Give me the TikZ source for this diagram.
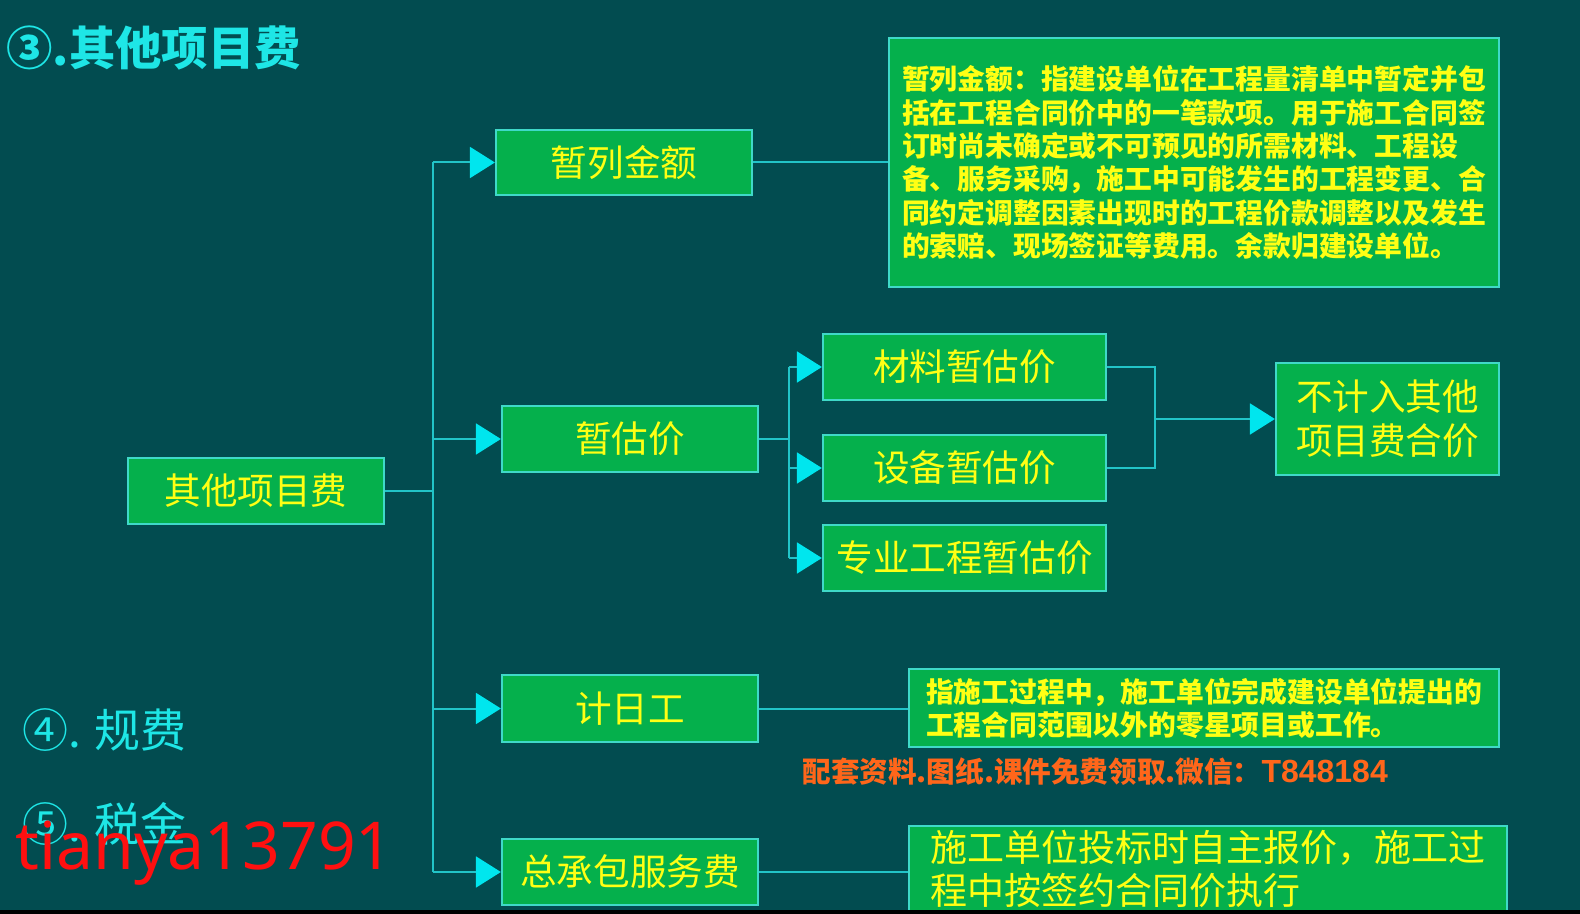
\documentclass[tikz,border=0pt]{standalone}
\usepackage{fontspec}
\setmainfont{Noto Sans CJK SC}
\newfontfamily\latinsans{Noto Sans}
\newfontfamily\codesans{Liberation Sans}
\usetikzlibrary{arrows.meta}

\definecolor{bgteal}{HTML}{024C50}
\definecolor{boxgreen}{HTML}{05B04C}
\definecolor{boxedge}{HTML}{3FD9C8}
\definecolor{labelyellow}{HTML}{FFFF14}
\definecolor{linkcyan}{HTML}{22C4C8}
\definecolor{tipcyan}{HTML}{00E6EE}
\definecolor{headcyan}{HTML}{1EE6E6}
\definecolor{noteorange}{HTML}{FF661A}
\definecolor{markred}{HTML}{FF1010}

\begin{document}
\begin{tikzpicture}[x=0.5pt,y=-0.5pt,
  box/.style={draw=boxedge, line width=1.1pt, fill=boxgreen, text=labelyellow,
    inner sep=0pt, align=center, font=\fontsize{18.3pt}{22pt}\selectfont},
  notebox/.style={box, align=left},
  plain/.style={inner sep=0pt},
  link/.style={draw=linkcyan, line width=1pt},
  feed/.style={link, -{Triangle[length=12.5pt,width=15.5pt,color=tipcyan]}},
]
% canvas
\fill[bgteal] (0,0) rectangle (1580,914);
\useasboundingbox (0,0) rectangle (1580,914);

% heading and side items
\node[plain, anchor=west, text=headcyan, font=\bfseries\fontsize{23.2pt}{28pt}\selectfont]
  (title) at (6,48) {③.其他项目费};
\node[plain, anchor=west, text=headcyan, font=\fontsize{23pt}{28pt}\selectfont]
  (fee) at (22,730) {④. 规费};
\node[plain, anchor=west, text=headcyan, font=\fontsize{23pt}{28pt}\selectfont]
  (tax) at (22,824) {⑤. 税金};

% tree nodes
\node[box, minimum width=128pt, minimum height=33pt] (root) at (256,491) {其他项目费};
\node[box, minimum width=128pt, minimum height=32.5pt] (zl) at (624,162.5) {暂列金额};
\node[box, minimum width=128pt, minimum height=33pt] (zg) at (630,439) {暂估价};
\node[box, minimum width=128pt, minimum height=33.5pt] (jr) at (630,708.5) {计日工};
\node[box, minimum width=128pt, minimum height=33pt] (zcb) at (630,872) {总承包服务费};
\node[box, minimum width=141.5pt, minimum height=33pt] (cl) at (964.5,367) {材料暂估价};
\node[box, minimum width=141.5pt, minimum height=33pt] (sb) at (964.5,468) {设备暂估价};
\node[box, minimum width=141.5pt, minimum height=33pt] (zy) at (964.5,558) {专业工程暂估价};
\node[box, minimum width=111.5pt, minimum height=56pt] (bj) at (1387.5,419) {不计入其他\\项目费合价};

% explanation boxes
\node[notebox, minimum width=305pt, minimum height=124.5pt,
  font=\bfseries\fontsize{13.9pt}{16.7pt}\selectfont] (d1) at (1194,162.5)
  {暂列金额：指建设单位在工程量清单中暂定并包\\
   括在工程合同价中的一笔款项。用于施工合同签\\
   订时尚未确定或不可预见的所需材料、工程设\\
   备、服务采购，施工中可能发生的工程变更、合\\
   同约定调整因素出现时的工程价款调整以及发生\\
   的索赔、现场签证等费用。余款归建设单位。};
\node[notebox, minimum width=295pt, minimum height=39pt,
  font=\bfseries\fontsize{13.9pt}{16.5pt}\selectfont] (d2) at (1204,708)
  {指施工过程中，施工单位完成建设单位提出的\\
   工程合同范围以外的零星项目或工作。};
\node[notebox, minimum width=299pt, minimum height=43pt,
  font=\fontsize{18.5pt}{21.3pt}\selectfont] (d3) at (1208,869)
  {施工单位投标时自主报价，施工过\\
   程中按签约合同价执行};

\node[plain, anchor=west, text=noteorange, font=\bfseries\fontsize{14.3pt}{17pt}\selectfont]
  (promo) at (802,772)
  {配套资料.图纸.课件免费领取.微信：{\codesans\bfseries\fontsize{16pt}{17pt}\selectfont T848184}};

% connectors
\coordinate (t) at (433,491);
\coordinate (s) at (789,439);
\coordinate (m) at (1155,419);

\draw[link] (root.east) -- (t);
\draw[link] (t |- zl.west) -- (t |- zcb.west);
\draw[feed] (t |- zl.west) -- (zl.west);
\draw[feed] (t |- zg.west) -- (zg.west);
\draw[feed] (t |- jr.west) -- (jr.west);
\draw[feed] (t |- zcb.west) -- (zcb.west);

\draw[link] (zl.east) -- (zl.east -| d1.west);
\draw[link] (jr.east) -- (jr.east -| d2.west);
\draw[link] (zcb.east) -- (zcb.east -| d3.west);

\draw[link] (zg.east) -- (s);
\draw[link] (s |- cl.west) -- (s |- zy.west);
\draw[feed] (s |- cl.west) -- (cl.west);
\draw[feed] (s |- sb.west) -- (sb.west);
\draw[feed] (s |- zy.west) -- (zy.west);

\draw[link] (cl.east) -- (m |- cl.east) -- (m |- sb.east) -- (sb.east);
\draw[feed] (m) -- (bj.west);

% overlay mark and bottom strip
\node[plain, anchor=base west, text=markred, font=\latinsans\fontsize{33pt}{36pt}\selectfont]
  (mark) at (15,869) {tianya13791};
\fill[black] (0,910) rectangle (1580,914);
\end{tikzpicture}
\end{document}
